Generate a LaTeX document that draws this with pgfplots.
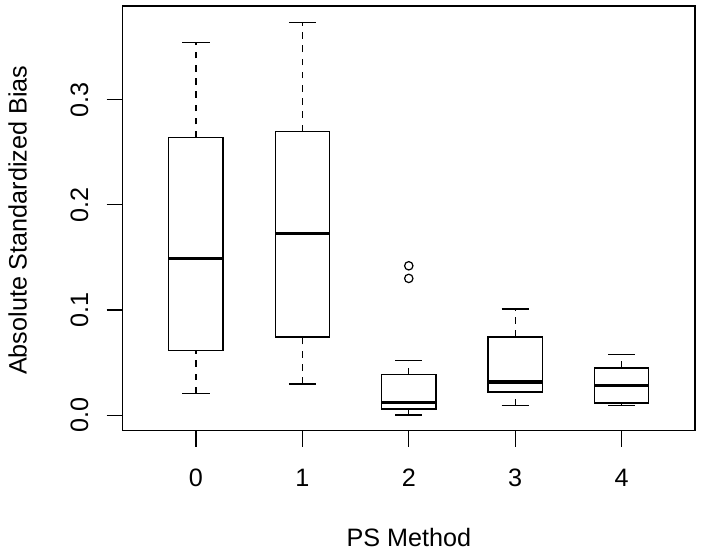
\documentclass[border=0pt]{standalone}
\usepackage{fontspec}
\setmainfont{Liberation Sans}
\usepackage{pgfplots}
\pgfplotsset{compat=1.18}
\usepgfplotslibrary{statistics}
\usetikzlibrary{calc}
\newcommand{\lblfont}{\fontsize{12.6}{15}\selectfont}
\begin{document}
\lblfont
\begin{tikzpicture}
\begin{axis}[
  scale only axis,
  width=286.5pt, height=212.5pt,
  xmin=-0.69, xmax=4.69,
  ymin=-0.0147, ymax=0.389,
  axis line style={line width=0.6pt, black},
  xtick={0,1,2,3,4}, xticklabels={0,1,2,3,4},
  ytick={0,0.1,0.2,0.3}, yticklabels={0.0,0.1,0.2,0.3},
  tick align=outside, xtick pos=bottom, ytick pos=left,
  major tick length=8pt,
  tick style={line width=0.6pt, black},
  /pgf/number format/assume math mode=true,
  xticklabel style={font=\lblfont, yshift=-7pt},
  yticklabel style={font=\lblfont, rotate=90, anchor=south, yshift=4.7pt},
  xlabel={PS Method}, ylabel={Absolute Standardized Bias},
  xlabel style={font=\lblfont, at={(axis description cs:0.5,0)}, anchor=base, yshift=-58pt},
  ylabel style={font=\lblfont, at={(axis description cs:0,0.5)}, anchor=base, yshift=48pt, xshift=-1pt},
  clip=false,
  boxplot/draw direction=y,
  boxplot/box extend=0.51,
  boxplot/whisker extend=0.255,
  boxplot/every box/.style={draw=black, line width=0.6pt, fill=none},
  boxplot/every median/.style={draw=black, line width=1.6pt},
  boxplot/draw/lower whisker/.code={
    \draw[black, line width=0.6pt, dash pattern=on 3.3pt off 3.3pt]
      (boxplot cs:\pgfplotsboxplotvalue{lower whisker}) -- (boxplot cs:\pgfplotsboxplotvalue{lower quartile});
    \draw[black, line width=0.6pt]
      (boxplot whisker cs:\pgfplotsboxplotvalue{lower whisker},0) -- (boxplot whisker cs:\pgfplotsboxplotvalue{lower whisker},1);
  },
  boxplot/draw/upper whisker/.code={
    \draw[black, line width=0.6pt, dash pattern=on 3.3pt off 3.3pt]
      (boxplot cs:\pgfplotsboxplotvalue{upper quartile}) -- (boxplot cs:\pgfplotsboxplotvalue{upper whisker});
    \draw[black, line width=0.6pt]
      (boxplot whisker cs:\pgfplotsboxplotvalue{upper whisker},0) -- (boxplot whisker cs:\pgfplotsboxplotvalue{upper whisker},1);
  },
]
\addplot[black, boxplot prepared={draw position=0, lower whisker=0.0207, lower quartile=0.0613, median=0.149, upper quartile=0.264, upper whisker=0.354}] coordinates {};
\addplot[black, boxplot prepared={draw position=1, lower whisker=0.0296, lower quartile=0.0743, median=0.173, upper quartile=0.270, upper whisker=0.373}] coordinates {};
\addplot[black, mark=o, mark size=2.1pt, mark options={solid, line width=0.6pt},
  boxplot prepared={draw position=2, lower whisker=0.0002, lower quartile=0.0059, median=0.0119, upper quartile=0.0385, upper whisker=0.052}]
  table[row sep=\\, y index=0] {0.142\\0.130\\};
\addplot[black, boxplot prepared={draw position=3, lower whisker=0.009, lower quartile=0.022, median=0.0315, upper quartile=0.0743, upper whisker=0.101}] coordinates {};
\addplot[black, boxplot prepared={draw position=4, lower whisker=0.009, lower quartile=0.0116, median=0.028, upper quartile=0.0448, upper whisker=0.058}] coordinates {};
\end{axis}
\path ($(current axis.south west)+(-61pt,-61.5pt)$) rectangle ($(current axis.north east)+(3pt,3pt)$);
\end{tikzpicture}
\end{document}
